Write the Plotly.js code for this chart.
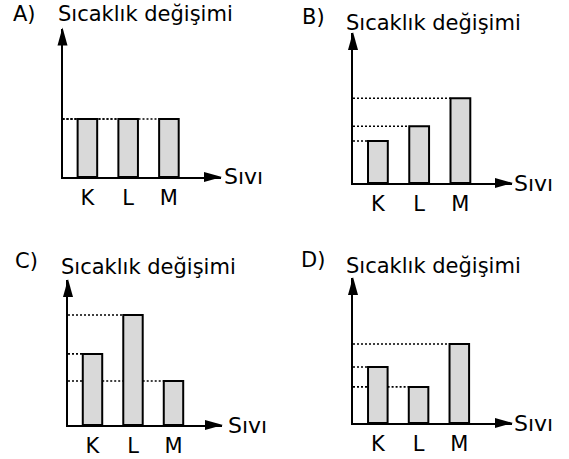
<!DOCTYPE html>
<html>
<head>
<meta charset="utf-8">
<script src="https://cdn.plot.ly/plotly-3.0.1.min.js"></script>
<style>html,body{margin:0;padding:0;background:#fff}#chart{width:569px;height:459px}</style>
</head>
<body>
<div id="chart"></div>
<script>
// ---- data ----
const categories = ['K', 'L', 'M'];
const panelLetters = ['A)', 'B)', 'C)', 'D)'];
const yTitle = 'Sıcaklık değişimi';
const xTitle = 'Sıvı';
const valuesA = [2.07, 2.07, 2.07];
const valuesB = [1.5, 2.03, 3.03];
const valuesC = [2.54, 3.93, 1.57];
const valuesD = [2.0, 1.29, 2.82];

// ---- layout helpers ----
const W = 569, H = 459;
const px = v => v / W;
const py = v => 1 - v / H;
const FONT = 'DejaVu Sans, Liberation Sans, Arial, sans-serif';
const barW = 0.48;

const panels = [
  {vals: valuesA, xd: [62.5, 221], yd: [177, 28.5], xr: [-0.611, 3.278], yr: 5.30,
   letter: [12, 13.5], title: [57, 13.5], xlab: [223, 176]},
  {vals: valuesB, xd: [353, 512], yd: [183, 33], xr: [-0.604, 3.251], yr: 5.36,
   letter: [301, 17], title: [345, 22.5], xlab: [513, 183]},
  {vals: valuesC, xd: [68, 222], yd: [425, 280], xr: [-0.605, 3.198], yr: 5.18,
   letter: [14, 260.5], title: [60, 267], xlab: [227, 425]},
  {vals: valuesD, xd: [353, 512], yd: [423, 278], xr: [-0.609, 3.293], yr: 5.18,
   letter: [300, 260], title: [345, 266], xlab: [513, 423]}
];

const xIdx = categories.map((c, i) => i);
const traces = [];
const layout = {
  width: W, height: H,
  margin: {l: 0, r: 0, t: 0, b: 0},
  paper_bgcolor: '#ffffff', plot_bgcolor: 'rgba(0,0,0,0)',
  showlegend: false, bargap: 0,
  font: {family: FONT, color: '#000'},
  annotations: [], shapes: []
};

panels.forEach((p, k) => {
  const n = k === 0 ? '' : String(k + 1);
  const xa = 'x' + n, ya = 'y' + n;
  // dotted guide lines (drawn first, broken where taller bars stand in front)
  p.vals.forEach((v, i) => {
    const xs = [], ys = [];
    let start = p.xr[0];
    for (let j = 0; j < i; j++) {
      if (p.vals[j] > v + 1e-9) {
        xs.push(start, xIdx[j] - barW / 2, null);
        ys.push(v, v, null);
        start = xIdx[j] + barW / 2;
      }
    }
    xs.push(start, xIdx[i] - barW / 2);
    ys.push(v, v);
    traces.push({type: 'scatter', mode: 'lines', x: xs, y: ys, xaxis: xa, yaxis: ya,
      line: {color: '#000', width: 1.6, dash: '2px,2px'}, hoverinfo: 'skip', connectgaps: false});
  });
  traces.push({type: 'bar', x: xIdx, y: p.vals, width: barW, xaxis: xa, yaxis: ya,
    marker: {color: '#d9d9d9', line: {color: '#000', width: 2}}, hoverinfo: 'skip'});

  layout['xaxis' + n] = {domain: [px(p.xd[0]), px(p.xd[1])], range: p.xr, anchor: ya,
    showgrid: false, zeroline: false, showline: true, linecolor: '#000', linewidth: 2,
    ticks: '', tickvals: xIdx, ticktext: categories, ticklabelstandoff: 1,
    tickfont: {family: FONT, size: 21, color: '#000'}, fixedrange: true};
  layout['yaxis' + n] = {domain: [py(p.yd[0]), py(p.yd[1])], range: [0, p.yr], anchor: xa,
    showgrid: false, zeroline: false, showline: true, linecolor: '#000', linewidth: 2,
    ticks: '', showticklabels: false, fixedrange: true};

  // arrowheads
  layout.shapes.push({type: 'path', xref: 'paper', yref: 'paper', xsizemode: 'pixel', ysizemode: 'pixel',
    xanchor: px(p.xd[1]), yanchor: py(p.yd[0]), path: 'M1,0 L-17,5 L-17,-5 Z',
    fillcolor: '#000', line: {width: 0}});
  layout.shapes.push({type: 'path', xref: 'paper', yref: 'paper', xsizemode: 'pixel', ysizemode: 'pixel',
    xanchor: px(p.xd[0]), yanchor: py(p.yd[1]), path: 'M0,1 L-5,-17 L5,-17 Z',
    fillcolor: '#000', line: {width: 0}});

  // texts
  layout.annotations.push({text: panelLetters[k], xref: 'paper', yref: 'paper', showarrow: false,
    x: px(p.letter[0]), y: py(p.letter[1]), xanchor: 'left', yanchor: 'middle',
    font: {family: FONT, size: 21, color: '#000'}, borderpad: 0});
  layout.annotations.push({text: yTitle, xref: 'paper', yref: 'paper', showarrow: false,
    x: px(p.title[0]), y: py(p.title[1]), xanchor: 'left', yanchor: 'middle',
    font: {family: FONT, size: 21, color: '#000'}, borderpad: 0});
  layout.annotations.push({text: xTitle, xref: 'paper', yref: 'paper', showarrow: false,
    x: px(p.xlab[0]), y: py(p.xlab[1]), xanchor: 'left', yanchor: 'middle',
    font: {family: FONT, size: 22, color: '#000'}, borderpad: 0});
});

Plotly.newPlot('chart', traces, layout, {displayModeBar: false, staticPlot: true});
</script>
</body>
</html>
